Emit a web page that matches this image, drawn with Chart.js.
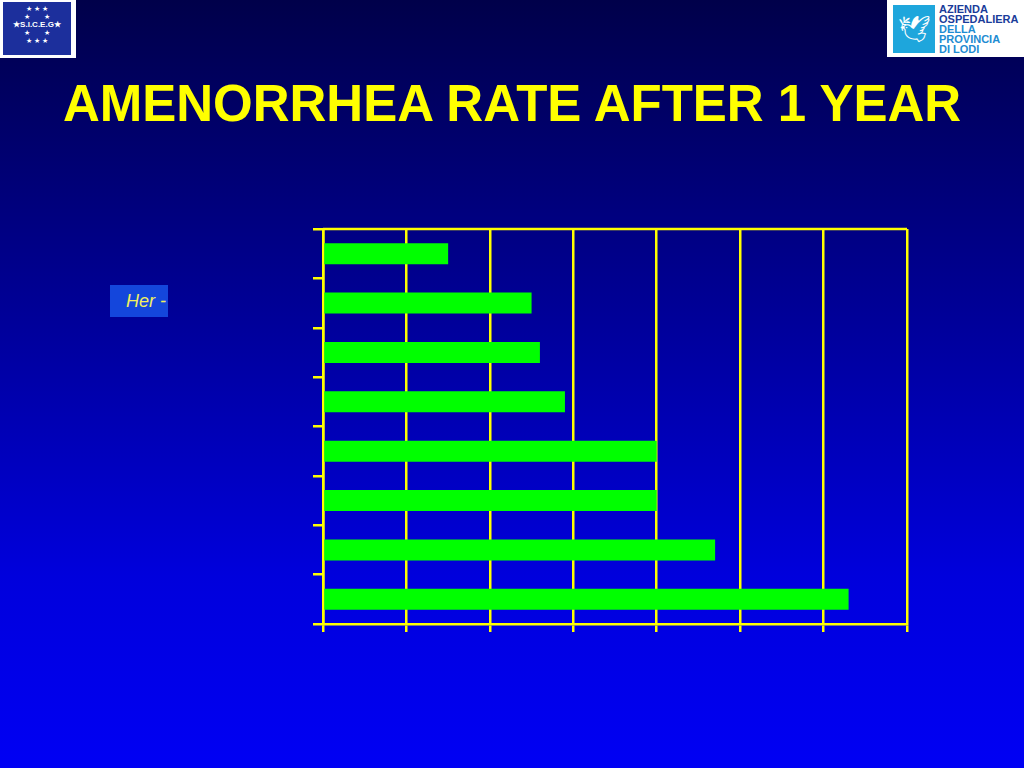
<!DOCTYPE html>
<html>
<head>
<meta charset="utf-8">
<script src="https://cdn.jsdelivr.net/npm/chart.js@4"></script>
<style>
  html, body { margin: 0; padding: 0; }
  body {
    width: 1024px; height: 768px; overflow: hidden; position: relative;
    background: linear-gradient(to bottom, #00004a 0%, #000096 40%, #0000dc 75%, #0000f4 100%);
    font-family: "Liberation Sans", Arial, sans-serif;
  }
  #title {
    position: absolute; left: 0; width: 1024px; top: 74px; text-align: center;
    color: #ffff00; font-weight: bold; font-size: 51px;
  }
  #herBox {
    position: absolute; left: 110px; top: 285px; width: 58px; height: 32px;
    background: #1446dc; color: #f0f060; font-style: italic; font-size: 18px;
    line-height: 32px; text-indent: 16px; overflow: hidden; white-space: nowrap;
  }
  #logoLeft {
    position: absolute; left: 0; top: 0; width: 76px; height: 58px; background: #fff;
  }
  #logoLeft .inner {
    position: absolute; left: 3px; top: 2px; width: 68px; height: 53px; background: #1c2f9c;
    color: #fff; text-align: center; font-size: 7px; line-height: 8px;
  }
  #logoRight {
    position: absolute; left: 887px; top: 0; width: 137px; height: 57px; background: #fff;
  }
  #logoRight .sq {
    position: absolute; left: 6px; top: 5px; width: 42px; height: 48px; background: #1ea6dc;
    color: #fff; font-size: 26px; text-align: center; line-height: 48px;
  }
  #logoRight .txt {
    position: absolute; left: 52px; top: 4px; font-size: 11px; line-height: 10px;
    font-weight: bold; color: #1e8cd2; font-family: "Liberation Sans Narrow", "Liberation Sans", sans-serif;
  }
  #logoRight .txt .dk { color: #1a3c9a; }
  #chartBox { position: absolute; left: 0; top: 0; width: 1024px; height: 768px; }
</style>
</head>
<body>
<div id="logoLeft"><div class="inner">
  <div style="margin-top:3px">★ ★ ★</div>
  <div>★&nbsp;&nbsp;&nbsp;&nbsp;&nbsp;&nbsp;&nbsp;★</div>
  <div style="font-weight:bold;font-size:8px">★S.I.C.E.G★</div>
  <div>★&nbsp;&nbsp;&nbsp;&nbsp;&nbsp;&nbsp;&nbsp;★</div>
  <div>★ ★ ★</div>
</div></div>
<div id="logoRight">
  <div class="sq">🕊</div>
  <div class="txt"><span class="dk">AZIENDA<br>OSPEDALIERA</span><br>DELLA<br>PROVINCIA<br>DI LODI</div>
</div>
<div id="title">AMENORRHEA RATE AFTER 1 YEAR</div>
<div id="herBox">Her -</div>
<div id="chartBox"><canvas id="chart"></canvas></div>
<script>
// categories (labels are not visible on the slide)
const studies = ['1', '2', '3', '4', '5', '6', '7', '8'];
// amenorrhea rate (%) per study, top to bottom
const rates = [15, 25, 26, 29, 40, 40, 47, 63];
const axisMin = 0;
const axisMax = 70;
const axisStep = 10;

// top edge of the plot frame
const frame = {
    id: 'frame',
    afterDraw(chart) {
        const { ctx, chartArea: a } = chart;
        ctx.save();
        ctx.strokeStyle = '#ffff00';
        ctx.lineWidth = 2.5;
        ctx.beginPath();
        ctx.moveTo(a.left, a.top);
        ctx.lineTo(a.right, a.top);
        ctx.stroke();
        ctx.restore();
    }
};

new Chart(document.getElementById('chart'), {
    type: 'bar',
    data: {
        labels: studies,
        datasets: [{
            data: rates,
            backgroundColor: '#00ff00',
            borderWidth: 0,
            barPercentage: 0.85,
            categoryPercentage: 0.5
        }]
    },
    options: {
        indexAxis: 'y',
        responsive: true,
        maintainAspectRatio: false,
        animation: false,
        layout: { padding: { left: 313, right: 117, top: 229, bottom: 136 } },
        plugins: { legend: { display: false }, tooltip: { enabled: false } },
        scales: {
            x: {
                min: axisMin, max: axisMax,
                ticks: { display: false, stepSize: axisStep },
                grid: { color: '#ffff00', lineWidth: 2.5, tickLength: 8 },
                border: { color: '#ffff00', width: 2.5 }
            },
            y: {
                ticks: { display: false },
                grid: { offset: true, drawOnChartArea: false, color: '#ffff00', lineWidth: 2.5, tickLength: 10 },
                border: { color: '#ffff00', width: 2.5 }
            }
        }
    },
    plugins: [frame]
});
</script>
</body>
</html>
